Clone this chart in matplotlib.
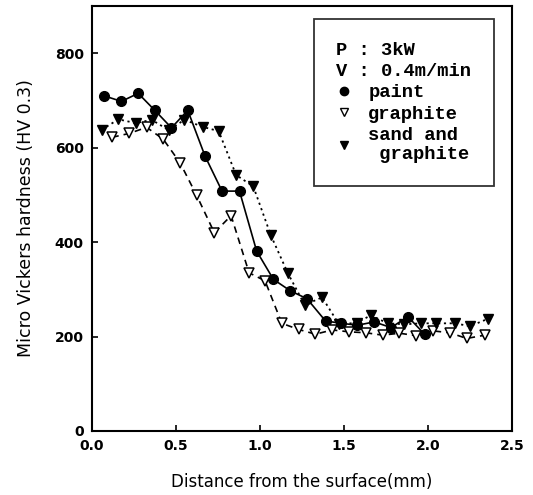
import matplotlib.pyplot as plt
from matplotlib.lines import Line2D

# distance from surface (mm) and micro Vickers hardness (HV 0.3)
paint_x = [0.07, 0.175, 0.275, 0.374, 0.473, 0.57, 0.673, 0.774, 0.878, 0.98,
           1.08, 1.18, 1.28, 1.39, 1.485, 1.58, 1.68, 1.78, 1.88, 1.98]
paint_y = [710, 698, 715, 679, 642, 679, 582, 508, 508, 381,
           321, 297, 280, 233, 228, 224, 231, 219, 242, 205]

graphite_x = [0.12, 0.22, 0.325, 0.424, 0.524, 0.623, 0.728, 0.828, 0.935, 1.03,
              1.13, 1.23, 1.33, 1.43, 1.53, 1.63, 1.73, 1.83, 1.93, 2.03,
              2.13, 2.23, 2.34]
graphite_y = [622, 630, 643, 618, 568, 499, 420, 456, 335, 318,
              228, 215, 205, 214, 210, 208, 203, 207, 202, 212,
              208, 196, 203]

sand_x = [0.058, 0.157, 0.26, 0.356, 0.456, 0.55, 0.66, 0.754, 0.858, 0.96,
          1.065, 1.166, 1.266, 1.37, 1.47, 1.575, 1.66, 1.76, 1.86, 1.96,
          2.05, 2.16, 2.25, 2.36]
sand_y = [638, 660, 652, 659, 637, 659, 644, 635, 542, 518,
          414, 334, 267, 283, 226, 229, 245, 228, 226, 228,
          228, 228, 222, 238]

xticks = [0.0, 0.5, 1.0, 1.5, 2.0, 2.5]
yticks = [0, 200, 400, 600, 800]

fig = plt.figure(figsize=(5.33, 4.95), dpi=100)
ax = fig.add_axes([0.1726, 0.1293, 0.788, 0.8586])

ax.plot(paint_x, paint_y, color='black', linestyle='-', linewidth=1.2,
        marker='o', markersize=7, markerfacecolor='black')
ax.plot(graphite_x, graphite_y, color='black', linestyle=(0, (4, 3)), linewidth=1.2,
        marker='v', markersize=7.5, markerfacecolor='white', markeredgewidth=1.1)
ax.plot(sand_x, sand_y, color='black', linestyle=(0, (1.2, 2)), linewidth=1.3,
        marker='v', markersize=7.5, markerfacecolor='black')

ax.set_xlim(0, 2.5)
ax.set_ylim(0, 900)
ax.set_xticks(xticks)
ax.set_xticklabels([f"{t:.1f}" for t in xticks])
ax.set_yticks(yticks)
ax.tick_params(direction='in', length=4, width=1.2, labelsize=10, pad=6)
for lab in ax.get_xticklabels() + ax.get_yticklabels():
    lab.set_fontweight('bold')
for sp in ax.spines.values():
    sp.set_linewidth(1.5)

ax.set_xlabel("Distance from the surface(mm)", fontsize=12, labelpad=14)
ax.set_ylabel("Micro Vickers hardness (HV 0.3)", fontsize=12.5, labelpad=14)

# legend box with process parameters as the title
handles = [
    Line2D([], [], color='black', linestyle='none', marker='o', markersize=6),
    Line2D([], [], color='black', linestyle='none', marker='v', markersize=6,
           markerfacecolor='white'),
    Line2D([], [], color='black', linestyle='none', marker='v', markersize=6),
]
labels = ["paint", "graphite", "sand and\n graphite"]
font = {'family': 'Liberation Mono', 'weight': 'bold', 'size': 13.5}
leg = ax.legend(handles, labels, loc='upper right', bbox_to_anchor=(0.957, 0.969),
                title="P : 3kW\nV : 0.4m/min", alignment='left',
                prop=font, title_fontproperties=font,
                frameon=True, fancybox=False, edgecolor='black', handlelength=0.8,
                handletextpad=0.9, labelspacing=0.22, borderpad=1.2,
                borderaxespad=0.0)
leg.get_title().set_linespacing(1.35)
leg.get_frame().set_linewidth(1.3)

fig.savefig("out.png", dpi=100)
